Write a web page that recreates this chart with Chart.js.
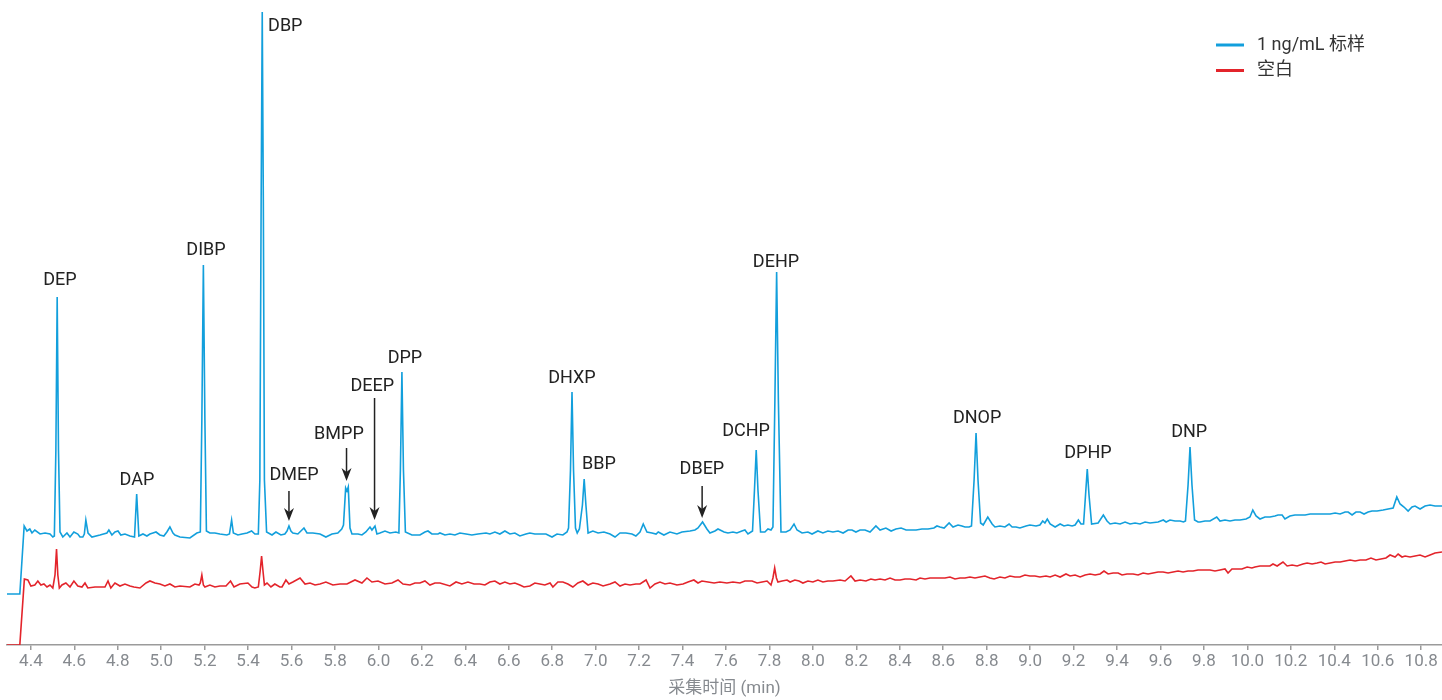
<!DOCTYPE html>
<html>
<head>
<meta charset="utf-8">
<script src="https://cdn.jsdelivr.net/npm/chart.js@4/dist/chart.umd.min.js"></script>
<style>
html,body{margin:0;padding:0;background:#fff;}
#wrap{width:1442px;height:700px;position:relative;}
</style>
</head>
<body>
<div id="wrap"><canvas id="c"></canvas></div>
<script>
// ---------- DATA ----------
const seriesNames = ['1 ng/mL 标样', '空白'];
const xTitle = '采集时间 (min)';

const blueTime = [4.290,4.349,4.369,4.382,4.395,4.405,4.418,4.442,4.465,4.488,4.501,4.508,4.515,4.521,4.527,4.534,4.547,4.566,4.580,4.598,4.616,4.626,4.639,4.646,4.653,4.663,4.681,4.718,4.750,4.759,4.773,4.787,4.801,4.814,4.833,4.856,4.877,4.887,4.897,4.916,4.934,4.948,4.962,4.976,4.994,5.012,5.026,5.040,5.054,5.063,5.086,5.132,5.164,5.180,5.187,5.194,5.201,5.208,5.224,5.247,5.270,5.302,5.314,5.324,5.332,5.353,5.372,5.395,5.416,5.431,5.447,5.454,5.460,5.465,5.470,5.475,5.485,5.510,5.528,5.551,5.569,5.579,5.588,5.597,5.606,5.629,5.643,5.657,5.671,5.698,5.731,5.758,5.786,5.813,5.831,5.839,5.849,5.855,5.861,5.869,5.878,5.906,5.924,5.942,5.961,5.970,5.984,5.993,6.007,6.030,6.053,6.080,6.094,6.101,6.108,6.115,6.124,6.154,6.191,6.214,6.228,6.246,6.274,6.283,6.306,6.329,6.352,6.375,6.403,6.430,6.458,6.495,6.513,6.536,6.559,6.582,6.605,6.628,6.651,6.679,6.697,6.720,6.743,6.771,6.799,6.822,6.849,6.868,6.875,6.884,6.891,6.898,6.907,6.915,6.925,6.939,6.947,6.955,6.965,6.987,7.011,7.038,7.066,7.089,7.112,7.139,7.167,7.185,7.204,7.219,7.236,7.259,7.278,7.288,7.314,7.342,7.374,7.397,7.434,7.457,7.471,7.492,7.512,7.526,7.549,7.563,7.591,7.609,7.632,7.650,7.673,7.687,7.701,7.722,7.731,7.739,7.747,7.759,7.779,7.793,7.807,7.816,7.825,7.833,7.841,7.853,7.876,7.895,7.913,7.927,7.950,7.977,7.996,8.023,8.046,8.069,8.092,8.116,8.139,8.162,8.180,8.198,8.217,8.240,8.263,8.290,8.309,8.336,8.360,8.382,8.406,8.429,8.447,8.475,8.502,8.530,8.557,8.571,8.585,8.604,8.627,8.645,8.668,8.686,8.700,8.719,8.730,8.742,8.751,8.760,8.772,8.784,8.805,8.825,8.838,8.861,8.884,8.903,8.917,8.935,8.953,8.981,8.999,9.027,9.045,9.058,9.068,9.079,9.092,9.115,9.138,9.156,9.174,9.193,9.207,9.222,9.234,9.246,9.255,9.263,9.271,9.283,9.313,9.337,9.354,9.368,9.391,9.414,9.437,9.460,9.483,9.506,9.529,9.552,9.589,9.613,9.626,9.644,9.667,9.690,9.706,9.715,9.727,9.736,9.745,9.757,9.773,9.782,9.805,9.828,9.859,9.874,9.897,9.920,9.943,9.966,9.994,10.012,10.025,10.040,10.058,10.081,10.104,10.127,10.141,10.160,10.173,10.196,10.219,10.243,10.266,10.289,10.312,10.335,10.358,10.381,10.404,10.427,10.450,10.464,10.482,10.500,10.519,10.537,10.556,10.574,10.597,10.625,10.648,10.671,10.688,10.703,10.721,10.740,10.758,10.772,10.795,10.818,10.841,10.864,10.896];
const blueSignal = [51,51,119,114,116,112,115,111,112,111,108,109,195,348,195,113,108,112,108,113,111,108,108,111,125,112,108,110,112,115,110,113,114,110,111,109,108,151,109,111,109,111,112,113,110,109,113,118,112,110,108,107,112,113,225,380,225,114,112,112,111,110,111,125,112,110,111,112,114,111,111,165,445,633,445,165,113,110,113,110,111,114,119,114,112,111,114,117,112,112,111,108,111,112,116,120,157,154,158,117,111,111,110,113,118,115,119,111,112,114,112,113,112,175,273,175,113,110,110,113,114,111,111,112,110,111,110,112,111,110,111,112,111,113,111,114,111,112,109,111,112,111,111,111,108,111,110,113,117,175,253,175,117,112,116,140,166,140,112,114,112,113,111,108,112,112,111,109,113,121,113,112,111,113,110,113,111,113,114,115,117,123,116,112,114,116,113,112,113,112,114,115,111,114,155,195,155,113,113,116,115,118,245,373,245,113,113,115,121,115,112,113,111,114,112,114,113,114,112,115,115,113,115,115,113,119,115,117,114,116,117,115,115,115,116,116,117,119,118,117,122,118,120,119,118,118,119,165,212,165,122,120,128,121,118,119,118,121,118,118,117,119,120,119,120,124,122,126,121,118,121,119,120,119,120,125,121,121,150,176,150,121,122,130,124,121,122,121,123,121,122,121,123,122,123,125,123,125,124,124,123,124,160,198,160,125,123,123,124,124,128,124,125,124,125,125,126,128,135,129,126,128,128,129,130,130,126,129,130,130,130,131,131,131,131,131,132,131,133,133,130,133,133,131,133,134,134,135,136,137,148,141,138,134,138,139,136,139,140,139,139];

const redTime = [4.290,4.349,4.370,4.386,4.400,4.418,4.432,4.446,4.460,4.474,4.488,4.501,4.511,4.518,4.524,4.531,4.543,4.561,4.580,4.598,4.616,4.635,4.649,4.662,4.695,4.741,4.755,4.768,4.787,4.810,4.833,4.856,4.874,4.902,4.930,4.948,4.971,4.994,5.017,5.040,5.063,5.086,5.132,5.155,5.174,5.180,5.187,5.194,5.201,5.224,5.247,5.270,5.298,5.319,5.335,5.362,5.399,5.418,5.431,5.447,5.456,5.462,5.468,5.475,5.487,5.505,5.523,5.546,5.556,5.574,5.588,5.606,5.639,5.662,5.685,5.708,5.731,5.758,5.790,5.823,5.855,5.892,5.924,5.947,5.970,5.998,6.030,6.062,6.090,6.113,6.145,6.168,6.191,6.214,6.237,6.260,6.283,6.329,6.357,6.384,6.412,6.440,6.467,6.490,6.513,6.536,6.559,6.582,6.605,6.628,6.651,6.670,6.697,6.720,6.743,6.766,6.790,6.803,6.826,6.849,6.872,6.895,6.918,6.941,6.965,6.987,7.011,7.034,7.066,7.089,7.112,7.135,7.158,7.185,7.204,7.232,7.250,7.273,7.296,7.319,7.342,7.374,7.402,7.425,7.452,7.471,7.489,7.517,7.545,7.572,7.604,7.632,7.664,7.687,7.720,7.743,7.766,7.789,7.807,7.816,7.824,7.832,7.839,7.858,7.881,7.895,7.917,7.936,7.954,7.977,8.000,8.023,8.046,8.069,8.092,8.125,8.148,8.175,8.194,8.217,8.244,8.267,8.286,8.309,8.332,8.355,8.378,8.401,8.424,8.447,8.475,8.493,8.516,8.539,8.571,8.608,8.631,8.654,8.677,8.700,8.723,8.746,8.769,8.792,8.815,8.834,8.861,8.884,8.907,8.930,8.953,8.976,8.999,9.022,9.045,9.073,9.092,9.115,9.138,9.165,9.184,9.207,9.230,9.253,9.276,9.299,9.322,9.340,9.359,9.382,9.405,9.423,9.446,9.474,9.497,9.520,9.543,9.566,9.589,9.612,9.635,9.658,9.681,9.704,9.727,9.750,9.773,9.805,9.828,9.851,9.874,9.897,9.911,9.929,9.952,9.975,9.999,10.021,10.035,10.058,10.081,10.104,10.118,10.137,10.164,10.183,10.206,10.229,10.256,10.275,10.298,10.321,10.339,10.358,10.381,10.404,10.427,10.450,10.473,10.496,10.519,10.546,10.569,10.592,10.615,10.638,10.657,10.680,10.694,10.712,10.726,10.749,10.772,10.795,10.818,10.841,10.864,10.896];
const redSignal = [0,0,66,65,59,60,64,60,61,58,60,57,70,96,70,57,60,62,58,64,59,58,62,57,58,58,64,57,62,59,61,59,58,57,62,64,62,61,59,61,58,59,58,61,60,62,70,60,58,60,58,59,59,64,58,61,62,58,57,58,75,89,75,60,62,58,61,58,58,65,61,63,67,61,62,60,61,63,60,61,61,65,62,67,63,64,61,62,65,61,60,62,62,64,60,62,62,59,63,61,63,61,61,60,63,64,61,63,61,62,60,58,59,62,61,60,62,58,63,63,61,58,62,64,60,62,61,59,61,63,59,61,60,61,61,65,57,61,63,61,62,60,61,63,65,62,64,63,62,63,62,63,62,64,64,62,63,64,60,67,77,67,63,64,65,63,65,64,62,64,63,65,63,64,64,65,64,69,64,65,64,66,65,66,65,67,65,65,66,66,65,67,66,67,67,67,68,66,67,67,68,67,68,69,67,66,68,67,69,68,68,70,69,69,68,69,68,70,68,71,69,70,68,70,71,70,71,74,71,72,72,70,71,71,70,72,71,72,73,73,72,73,74,73,74,74,75,75,75,74,75,76,72,76,76,76,78,77,78,79,79,79,81,79,83,79,80,79,81,82,81,82,83,81,82,83,83,84,85,84,85,85,87,85,86,87,90,88,91,88,89,88,89,90,88,90,92,93];

// peak annotations (label centre in data units)
const peakNames   = ['DEP','DAP','DIBP','DBP','DMEP','BMPP','DEEP','DPP','DHXP','BBP','DBEP','DCHP','DEHP','DNOP','DPHP','DNP'];
const labelTime   = [4.534,4.888,5.206,5.571,5.611,5.818,5.972,6.122,6.891,7.015,7.489,7.692,7.830,8.756,9.266,9.732];
const labelSignal = [365,165,395,619,170,211,259,287,267,181,176,214,383,227,192,213];

// arrows (time, from signal, to signal)
const arrowTime = [5.588,5.853,5.982,7.490];
const arrowFrom = [154,197,247,159];
const arrowTo   = [124,164,125,127];

const xMin = 4.290, xMax = 10.896, xStep = 0.2;
const yMin = 0, yMax = 645;

// ---------- CHART ----------
const FONT = "Roboto, 'Noto Sans CJK SC', 'Noto Sans', sans-serif";
const BLUE = '#129fdc', RED = '#e3242b';

const annot = {
  id: 'annot',
  afterDatasetsDraw(chart) {
    const ctx = chart.ctx, xs = chart.scales.x, ys = chart.scales.y;
    ctx.save();
    ctx.fillStyle = '#222';
    ctx.font = '18px ' + FONT;
    ctx.textAlign = 'center';
    ctx.textBaseline = 'middle';
    peakNames.forEach((n, i) => {
      ctx.fillText(n, xs.getPixelForValue(labelTime[i]), ys.getPixelForValue(labelSignal[i]));
    });
    ctx.strokeStyle = '#222';
    ctx.lineWidth = 1.5;
    arrowTime.forEach((t, i) => {
      const x = xs.getPixelForValue(t);
      const y0 = ys.getPixelForValue(arrowFrom[i]);
      const y1 = ys.getPixelForValue(arrowTo[i]);
      ctx.beginPath(); ctx.moveTo(x, y0); ctx.lineTo(x, y1 - 8); ctx.stroke();
      ctx.beginPath();
      ctx.moveTo(x, y1);
      ctx.lineTo(x - 5, y1 - 13);
      ctx.lineTo(x, y1 - 9);
      ctx.lineTo(x + 5, y1 - 13);
      ctx.closePath(); ctx.fill();
    });
    // legend
    const lx = 1216, ly = [45, 70.5];
    [BLUE, RED].forEach((c, i) => {
      ctx.strokeStyle = c; ctx.lineWidth = 3;
      ctx.beginPath(); ctx.moveTo(lx, ly[i]); ctx.lineTo(lx + 28, ly[i]); ctx.stroke();
      ctx.fillStyle = '#333'; ctx.textAlign = 'left';
      ctx.fillText(seriesNames[i], lx + 41, ly[i]);
    });
    ctx.restore();
  }
};

const mk = (t, s) => t.map((v, i) => ({x: v, y: s[i]}));

new Chart(document.getElementById('c'), {
  type: 'line',
  data: {
    datasets: [
      {label: seriesNames[1], data: mk(redTime, redSignal), borderColor: RED, borderWidth: 1.6, pointRadius: 0, tension: 0, fill: false},
      {label: seriesNames[0], data: mk(blueTime, blueSignal), borderColor: BLUE, borderWidth: 1.6, pointRadius: 0, tension: 0, fill: false}
    ]
  },
  options: {
    responsive: true, maintainAspectRatio: false, animation: false,
    layout: {padding: {left: 7, right: 0, top: 0, bottom: 0}},
    plugins: {legend: {display: false}, tooltip: {enabled: false}},
    scales: {
      x: {
        type: 'linear', min: xMin, max: xMax,
        ticks: {stepSize: xStep, autoSkip: false, maxRotation: 0, includeBounds: false,
                color: '#868a8f', font: {size: 17, family: FONT}, padding: 2,
                callback: v => v.toFixed(1)},
        grid: {display: true, drawOnChartArea: false, drawTicks: true, tickLength: 5, color: '#9b9b9b', lineWidth: 1.5},
        border: {display: true, color: '#9b9b9b', width: 1.5},
        title: {display: true, text: xTitle, color: '#868a8f', font: {size: 17, family: FONT}, padding: {top: 0, bottom: 1}},
        afterFit: s => { s.height = 55; }
      },
      y: {display: false, min: yMin, max: yMax}
    }
  },
  plugins: [annot]
});
</script>
</body>
</html>
